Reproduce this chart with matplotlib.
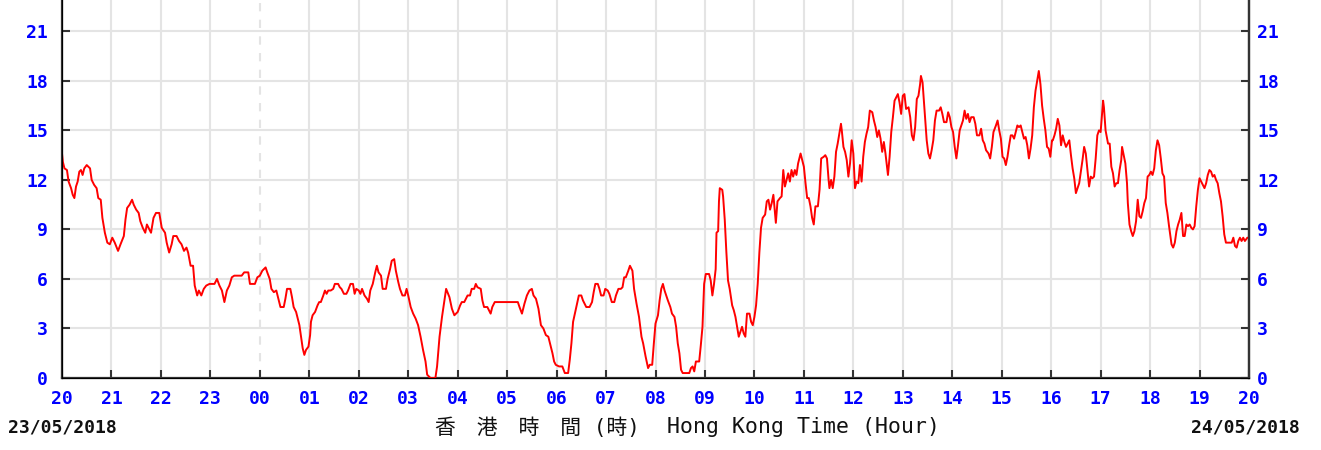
import matplotlib.pyplot as plt
import numpy as np

# minutes after 20:00 on 23/05/2018, wind speed
minutes = [
    0, 1, 3, 6, 8, 11, 13, 15, 17, 19, 21, 23, 25, 27, 30, 34, 36, 39, 42, 44,
    47, 49, 52, 55, 58, 61, 64, 68, 71, 75, 77, 79, 82, 85, 87, 90, 93, 95, 98, 101,
    103, 106, 108, 111, 114, 118, 121, 125, 127, 130, 133, 135, 139, 142, 145, 148, 151, 153, 156, 159,
    161, 164, 166, 169, 172, 175, 179, 185, 188, 191, 194, 197, 200, 203, 206, 209, 218, 221, 226, 228,
    234, 237, 240, 243,
    247, 249, 252, 254, 257, 260, 262, 265, 269, 271, 273, 277, 279, 281, 284, 286, 288, 290, 292, 294,
    296, 299, 301, 302, 304, 307, 310, 312, 314, 317, 319, 321, 323, 326, 329, 331, 335, 337, 339, 342,
    345, 347, 350, 353, 355, 357, 360, 362, 364, 367, 370, 372, 374, 377, 380, 382, 384, 387, 389, 393,
    395, 398, 400, 403, 405, 408, 410, 413, 416, 418, 420, 423, 426, 429, 432, 435, 438, 441, 443, 447,
    453, 455, 458, 461, 464, 466, 470, 473, 476,
    480, 483, 485, 488, 490, 492, 495, 497, 500, 502, 504, 508, 510, 512, 516, 520, 522, 525, 539, 553,
    555, 558, 561, 564, 567, 570, 572, 575, 578, 581, 584, 587, 590, 593, 595, 597, 599, 603, 607, 610,
    614, 616, 618, 620, 624, 627, 630, 632, 636, 640, 643, 645, 647, 650, 652, 654, 657, 659, 662, 664,
    667, 670, 672, 675, 678, 680, 682, 684, 687, 689, 692, 694, 697, 700, 703, 705, 708, 711, 713, 716,
    718, 720,
    723, 725, 727, 729, 731, 733, 735, 738, 740, 743, 745, 747, 749, 751, 753, 761, 763, 765, 767, 769,
    773, 775, 777, 779, 781, 785, 787, 789, 791, 793, 794, 796, 797, 798, 801, 802, 804, 806, 808, 810,
    813, 815, 817, 819, 821, 823, 825, 827, 829, 831, 834, 836, 838, 840, 842, 844, 846, 848, 850, 853,
    855, 857, 859, 861, 863, 865, 866, 868, 871, 873,
    875, 877, 879, 881, 883, 885, 887, 889, 891, 893, 896, 898, 900, 902, 904, 906, 908, 910, 912, 914,
    917, 919, 921, 924, 926, 928, 930, 931, 933, 935, 937, 939, 941, 943, 945, 946, 948, 950, 952, 954,
    956, 958, 960, 962, 964, 966, 968, 970, 972, 974, 976, 978, 980, 983, 985, 987, 989, 991, 993, 995,
    997, 999, 1002, 1004, 1006, 1008, 1010, 1012, 1014, 1016, 1018, 1020, 1022, 1024, 1027, 1029, 1031, 1033, 1035, 1037,
    1039, 1041, 1042, 1044, 1047, 1049, 1051, 1053, 1055, 1057, 1059, 1061, 1064, 1066, 1068, 1070, 1073, 1075, 1077, 1079,
    1081, 1083, 1085, 1087, 1089, 1091, 1093, 1095, 1097, 1099, 1101, 1103, 1106, 1108, 1110, 1113, 1115, 1117, 1119, 1121,
    1124,
    1126, 1128, 1130, 1133, 1135, 1137, 1139, 1141, 1143, 1145, 1147, 1149, 1151, 1153, 1155, 1157, 1159, 1161, 1163, 1165,
    1167, 1169, 1171, 1173, 1175, 1177, 1179, 1181, 1183, 1185, 1187, 1189, 1191, 1193, 1195, 1197, 1199, 1201,
    1202, 1204, 1206, 1208, 1210, 1212, 1214, 1216, 1218, 1220, 1222, 1224, 1226, 1228, 1230, 1232, 1234, 1236, 1238, 1240,
    1242, 1244, 1246, 1248, 1250, 1252, 1254, 1256, 1258, 1260, 1262, 1263, 1264, 1266, 1269, 1271, 1273, 1275, 1277, 1279,
    1281, 1283, 1285, 1286, 1288, 1290, 1292, 1293, 1295, 1297, 1299, 1301, 1303, 1305, 1307, 1309, 1311, 1313, 1315, 1317,
    1319, 1321, 1323, 1325, 1327, 1329, 1331, 1333, 1335, 1337, 1339, 1341, 1343, 1346, 1348, 1350, 1352, 1354, 1356, 1358,
    1360, 1362, 1364, 1366, 1368, 1370, 1372, 1374, 1376, 1378, 1380, 1382, 1384, 1386, 1388, 1390, 1392, 1394, 1396, 1398,
    1400, 1402, 1404, 1406, 1408, 1410, 1412, 1416, 1419, 1421, 1423, 1425, 1427, 1429, 1431, 1433, 1435, 1438, 1440,
]
wind_speed = [
    13.6, 13.1, 12.7, 12.6, 11.9, 11.5, 11.1, 10.9, 11.6, 11.9, 12.5, 12.6, 12.3, 12.7, 12.9, 12.7, 12.0, 11.7, 11.5, 10.9,
    10.8, 9.7, 8.8, 8.2, 8.1, 8.5, 8.2, 7.7, 8.1, 8.6, 9.6, 10.3, 10.5, 10.8, 10.5, 10.2, 10.0, 9.5, 9.1, 8.8,
    9.3, 9.0, 8.8, 9.7, 10.0, 10.0, 9.1, 8.8, 8.2, 7.6, 8.1, 8.6, 8.6, 8.3, 8.1, 7.7, 7.9, 7.6, 6.8, 6.8,
    5.6, 5.0, 5.3, 5.0, 5.4, 5.6, 5.7, 5.7, 6.0, 5.6, 5.3, 4.6, 5.3, 5.6, 6.1, 6.2, 6.2, 6.4, 6.4, 5.7,
    5.7, 6.1, 6.2, 6.5,
    6.7, 6.4, 6.0, 5.4, 5.2, 5.3, 4.9, 4.3, 4.3, 4.8, 5.4, 5.4, 4.9, 4.3, 4.0, 3.6, 3.2, 2.5, 1.8, 1.4,
    1.7, 1.9, 2.6, 3.4, 3.8, 4.0, 4.4, 4.6, 4.6, 5.0, 5.3, 5.1, 5.3, 5.3, 5.4, 5.7, 5.7, 5.5, 5.4, 5.1,
    5.1, 5.3, 5.7, 5.7, 5.1, 5.4, 5.3, 5.1, 5.4, 5.0, 4.8, 4.6, 5.3, 5.7, 6.4, 6.8, 6.4, 6.2, 5.4, 5.4,
    6.0, 6.6, 7.1, 7.2, 6.5, 5.8, 5.4, 5.0, 5.0, 5.4, 5.0, 4.3, 3.9, 3.6, 3.2, 2.5, 1.7, 1.0, 0.2, 0.0,
    0.0, 0.7, 2.5, 3.7, 4.7, 5.4, 4.9, 4.2, 3.8,
    4.0, 4.4, 4.6, 4.6, 4.8, 5.0, 5.0, 5.4, 5.4, 5.7, 5.5, 5.4, 4.7, 4.3, 4.3, 3.9, 4.3, 4.6, 4.6, 4.6,
    4.3, 3.9, 4.5, 5.0, 5.3, 5.4, 5.0, 4.8, 4.2, 3.2, 3.0, 2.6, 2.5, 1.9, 1.5, 1.0, 0.8, 0.7, 0.7, 0.3,
    0.3, 1.1, 2.1, 3.4, 4.3, 5.0, 5.0, 4.7, 4.3, 4.3, 4.6, 5.2, 5.7, 5.7, 5.4, 5.0, 5.0, 5.4, 5.3, 5.1,
    4.6, 4.6, 5.0, 5.4, 5.4, 5.5, 6.1, 6.1, 6.5, 6.8, 6.5, 5.4, 4.5, 3.7, 2.5, 2.1, 1.3, 0.6, 0.8, 0.8,
    2.1, 3.3,
    3.8, 4.7, 5.4, 5.7, 5.3, 5.0, 4.7, 4.3, 3.9, 3.7, 3.1, 2.1, 1.5, 0.5, 0.3, 0.3, 0.6, 0.7, 0.4, 1.0,
    1.0, 2.0, 3.1, 5.7, 6.3, 6.3, 5.9, 5.0, 5.7, 6.6, 8.8, 8.9, 10.7, 11.5, 11.4, 11.0, 9.6, 7.6, 5.9, 5.4,
    4.4, 4.1, 3.7, 3.1, 2.5, 2.8, 3.1, 2.7, 2.5, 3.9, 3.9, 3.4, 3.2, 3.7, 4.4, 5.7, 7.6, 9.1, 9.7, 9.9,
    10.7, 10.8, 10.2, 10.6, 11.1, 10.0, 9.4, 10.7, 10.9, 11.0,
    12.6, 11.6, 12.0, 12.4, 11.9, 12.6, 12.2, 12.6, 12.3, 13.0, 13.6, 13.2, 12.8, 11.8, 10.9, 10.9, 10.4, 9.7, 9.3, 10.4,
    10.4, 11.4, 13.3, 13.4, 13.5, 13.3, 12.0, 11.5, 12.0, 11.5, 12.2, 13.7, 14.2, 14.8, 15.4, 15.0, 14.0, 13.7, 13.2, 12.2,
    13.0, 14.4, 13.6, 11.5, 11.9, 11.8, 12.9, 11.9, 13.4, 14.3, 14.8, 15.2, 16.2, 16.1, 15.6, 15.2, 14.6, 15.0, 14.5, 13.7,
    14.3, 13.6, 12.3, 13.4, 14.9, 15.8, 16.8, 17.0, 17.2, 16.7, 16.0, 17.1, 17.2, 16.3, 16.4, 15.8, 14.7, 14.4, 15.2, 16.9,
    17.1, 17.8, 18.3, 17.9, 15.8, 14.4, 13.6, 13.3, 13.8, 14.4, 15.6, 16.2, 16.2, 16.4, 16.0, 15.5, 15.5, 16.1, 15.8, 15.2,
    14.9, 14.0, 13.3, 14.1, 15.0, 15.3, 15.6, 16.2, 15.7, 16.0, 15.5, 15.8, 15.8, 15.4, 14.7, 14.7, 15.1, 14.4, 14.2, 13.8,
    13.6,
    13.3, 14.0, 14.9, 15.3, 15.6, 15.0, 14.5, 13.4, 13.3, 12.9, 13.4, 14.1, 14.7, 14.7, 14.5, 14.9, 15.3, 15.2, 15.3, 14.9,
    14.5, 14.6, 14.1, 13.3, 13.9, 14.7, 16.4, 17.4, 18.0, 18.6, 17.8, 16.5, 15.7, 15.0, 14.0, 13.9, 13.4, 14.4,
    14.4, 14.7, 15.1, 15.7, 15.3, 14.1, 14.7, 14.3, 14.0, 14.2, 14.4, 13.5, 12.7, 12.1, 11.2, 11.5, 11.8, 12.5, 13.2, 14.0,
    13.6, 12.6, 11.6, 12.2, 12.1, 12.2, 13.3, 14.7, 15.0, 14.9, 16.2, 16.8, 16.4, 15.0, 14.2, 14.2, 12.8, 12.4, 11.6, 11.8,
    11.8, 12.6, 13.2, 14.0, 13.5, 13.0, 11.8, 10.6, 9.3, 8.9, 8.6, 8.9, 9.5, 10.8, 9.8, 9.7, 10.1, 10.6, 10.9, 12.2,
    12.3, 12.5, 12.3, 12.7, 13.8, 14.4, 14.1, 13.3, 12.4, 12.2, 10.6, 10.0, 9.2, 8.1, 7.9, 8.2, 8.9, 9.3, 9.6, 10.0,
    8.6, 8.6, 9.3, 9.2, 9.3, 9.1, 9.0, 9.2, 10.4, 11.4, 12.1, 11.9, 11.7, 11.5, 11.8, 12.3, 12.6, 12.5, 12.2, 12.3,
    12.0, 11.8, 11.2, 10.7, 9.8, 8.7, 8.2, 8.2, 8.2, 8.5, 8.0, 7.9, 8.3, 8.5, 8.3, 8.5, 8.3, 8.5, 8.5,
]

hour_labels = ['20', '21', '22', '23', '00', '01', '02', '03', '04', '05', '06', '07', '08',
               '09', '10', '11', '12', '13', '14', '15', '16', '17', '18', '19', '20']
y_ticks = [0, 3, 6, 9, 12, 15, 18, 21]

BLUE = '#0000ff'
AXIS = '#333333'
GRID = '#e4e4e4'
MONO = 'DejaVu Sans Mono'

W, H = 1321, 450
fig = plt.figure(figsize=(W / 100, H / 100), dpi=100)
ax = fig.add_axes([62 / W, 72 / H, (1249 - 62) / W, 378 / H])

hours = np.array(minutes) / 60.0
ax.plot(hours, wind_speed, color='#ff0000', linewidth=1.4, zorder=3)

ax.set_xlim(0, 24)
ax.set_ylim(0, 22.9)
ax.set_xticks(range(25))
ax.set_xticklabels(hour_labels)
ax.set_yticks(y_ticks)

ax.grid(True, color=GRID, linewidth=1.5, zorder=0)
ax.set_axisbelow(True)
# midnight gridline is dashed
ax.xaxis.get_gridlines()[4].set_linestyle((0, (4, 4)))

for side in ['left', 'bottom', 'right']:
    ax.spines[side].set_color(AXIS)
    ax.spines[side].set_linewidth(1.6)
ax.spines['top'].set_visible(False)

ax.tick_params(axis='both', direction='in', length=6, width=1.5, color=AXIS,
               labelcolor=BLUE, labelsize=13)
ax.tick_params(axis='y', pad=10)
ax.tick_params(axis='x', pad=9)
for lab in ax.get_xticklabels() + ax.get_yticklabels():
    lab.set_family(MONO)
    lab.set_fontweight('bold')

ax2 = ax.twinx()
ax2.set_ylim(ax.get_ylim())
ax2.set_yticks(y_ticks)
ax2.spines['top'].set_visible(False)
ax2.spines['right'].set_color(AXIS)
ax2.spines['right'].set_linewidth(1.6)
ax2.tick_params(axis='y', direction='in', length=6, width=1.5, color=AXIS,
                labelcolor=BLUE, labelsize=13, pad=6)
for lab in ax2.get_yticklabels():
    lab.set_family(MONO)
    lab.set_fontweight('bold')

fig.text(8 / W, 1 - 427 / H, '23/05/2018', family=MONO, fontweight='bold',
         fontsize=13, ha='left', va='center', color='#111111')
fig.text(1300 / W, 1 - 427 / H, '24/05/2018', family=MONO, fontweight='bold',
         fontsize=13, ha='right', va='center', color='#111111')
fig.text(435 / W, 1 - 428 / H, '香\u3000港\u3000時\u3000間 (時)',
         family=[MONO, 'Noto Sans CJK TC'], fontsize=15, ha='left', va='center',
         color='#111111')
fig.text(667 / W, 1 - 427 / H, 'Hong Kong Time (Hour)',
         family=MONO, fontsize=15.5, ha='left', va='center', color='#111111')

fig.savefig('out.png', dpi=100)
